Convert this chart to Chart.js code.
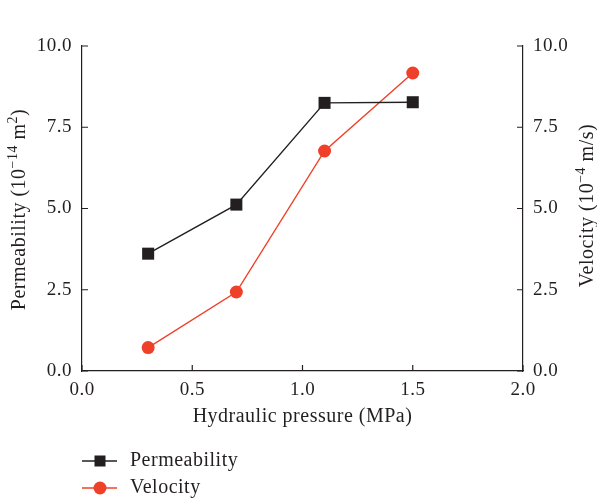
<!DOCTYPE html>
<html>
<head>
<meta charset="utf-8">
<script src="https://cdn.jsdelivr.net/npm/chart.js@4.4.0/dist/chart.umd.min.js"></script>
<style>
    html, body { margin: 0; padding: 0; background: #fff; }
    #wrap { position: relative; width: 597px; height: 503px; }
</style>
</head>
<body>
<div id="wrap"><canvas id="chart"></canvas></div>
<script>
var pressure = [0.3, 0.7, 1.1, 1.5];
var permeability = [3.61, 5.12, 8.25, 8.27];
var velocity = [0.72, 2.43, 6.77, 9.17];
var xTicks = [0, 0.5, 1.0, 1.5, 2.0];
var yTicks = [0, 2.5, 5.0, 7.5, 10.0];

var seriesNames = ['Permeability', 'Velocity'];
var xTitle = 'Hydraulic pressure (MPa)';
// [text, isSuperscript]
var leftTitle = [['Permeability (10', false], ['\u221214', true], [' m', false], ['2', true], [')', false]];
var rightTitle = [['Velocity (10', false], ['\u22124', true], [' m/s)', false]];

var FONT = '"Liberation Serif", "Times New Roman", serif';
var INK = '#231f20';
var RED = '#ef4129';
var SPACING = '0.5px';

function pts(xs, ys) {
    return xs.map(function (x, i) { return { x: x, y: ys[i] }; });
}

function fixedTicks(list) {
    return function (scale) {
        scale.ticks = list.map(function (v) { return { value: v }; });
    };
}

function drawRich(ctx, parts, size) {
    var big = size + 'px ' + FONT;
    var small = Math.round(size * 0.68) + 'px ' + FONT;
    var total = 0;
    parts.forEach(function (p) {
        ctx.font = p[1] ? small : big;
        total += ctx.measureText(p[0]).width;
    });
    var x = -total / 2;
    parts.forEach(function (p) {
        ctx.font = p[1] ? small : big;
        ctx.fillText(p[0], x, p[1] ? -size * 0.38 : 0);
        x += ctx.measureText(p[0]).width;
    });
}

// the source font sets a little wider than Liberation Serif
var spacingPlugin = {
    id: 'spacing',
    beforeInit: function (chart) { chart.ctx.letterSpacing = SPACING; },
    beforeUpdate: function (chart) { chart.ctx.letterSpacing = SPACING; },
    beforeDraw: function (chart) { chart.ctx.letterSpacing = SPACING; }
};

var decorPlugin = {
    id: 'decor',
    afterDraw: function (chart) {
        var ctx = chart.ctx;
        var area = chart.chartArea;
        ctx.save();
        ctx.strokeStyle = INK;
        ctx.lineWidth = 1.2;

        // inward tick marks
        var len = 6;
        ctx.beginPath();
        chart.scales.x.ticks.forEach(function (t) {
            var px = chart.scales.x.getPixelForValue(t.value);
            ctx.moveTo(px, area.bottom);
            ctx.lineTo(px, area.bottom - len);
        });
        chart.scales.y.ticks.forEach(function (t) {
            var py = chart.scales.y.getPixelForValue(t.value);
            ctx.moveTo(area.left, py);
            ctx.lineTo(area.left + len, py);
        });
        chart.scales.y1.ticks.forEach(function (t) {
            var py = chart.scales.y1.getPixelForValue(t.value);
            ctx.moveTo(area.right, py);
            ctx.lineTo(area.right - len, py);
        });
        ctx.stroke();

        // vertical axis titles with superscripts
        ctx.fillStyle = INK;
        ctx.textBaseline = 'alphabetic';
        ctx.textAlign = 'left';
        var midY = (area.top + area.bottom) / 2;
        ctx.save();
        ctx.translate(25, midY + 1);
        ctx.rotate(-Math.PI / 2);
        drawRich(ctx, leftTitle, 20);
        ctx.restore();
        ctx.save();
        ctx.translate(593, midY - 3);
        ctx.rotate(-Math.PI / 2);
        drawRich(ctx, rightTitle, 20);
        ctx.restore();

        // legend, stacked below the x axis title
        var rows = [461, 488];
        chart.data.datasets.forEach(function (ds, i) {
            var y = rows[i];
            ctx.strokeStyle = ds.borderColor;
            ctx.lineWidth = ds.borderWidth;
            ctx.beginPath();
            ctx.moveTo(82, y);
            ctx.lineTo(117, y);
            ctx.stroke();
            ctx.fillStyle = ds.backgroundColor;
            if (ds.pointStyle === 'rect') {
                ctx.fillRect(100 - 5.5, y - 5.5, 11, 11);
            } else {
                ctx.beginPath();
                ctx.arc(100, y, 6.5, 0, Math.PI * 2);
                ctx.fill();
            }
            ctx.fillStyle = INK;
            ctx.font = '20px ' + FONT;
            ctx.textBaseline = 'middle';
            ctx.fillText(ds.label, 130, y);
        });
        ctx.restore();
    }
};

var tickFont = { family: FONT, size: 19 };
var titleFont = { family: FONT, size: 20 };

function yScale(position, width) {
    return {
        type: 'linear',
        position: position,
        min: 0,
        max: 10,
        afterBuildTicks: fixedTicks(yTicks),
        afterFit: function (scale) { scale.width = width; },
        grid: { display: false, drawTicks: false },
        border: { display: true, color: INK, width: 1.2 },
        ticks: {
            font: tickFont,
            color: INK,
            padding: 10,
            callback: function (v) { return v.toFixed(1); }
        }
    };
}

new Chart(document.getElementById('chart'), {
    type: 'scatter',
    data: {
        datasets: [
            {
                label: seriesNames[0],
                data: pts(pressure, permeability),
                yAxisID: 'y',
                showLine: true,
                borderColor: INK,
                backgroundColor: INK,
                borderWidth: 1.4,
                pointStyle: 'rect',
                pointRadius: 8.5,
                pointBorderWidth: 0
            },
            {
                label: seriesNames[1],
                data: pts(pressure, velocity),
                yAxisID: 'y1',
                showLine: true,
                borderColor: RED,
                backgroundColor: RED,
                borderWidth: 1.4,
                pointStyle: 'circle',
                pointRadius: 6.5,
                pointBorderWidth: 0
            }
        ]
    },
    options: {
        responsive: true,
        maintainAspectRatio: false,
        animation: false,
        layout: { padding: { top: 46, bottom: 74, left: 0, right: 0 } },
        plugins: {
            legend: { display: false },
            tooltip: { enabled: false }
        },
        scales: {
            x: {
                type: 'linear',
                min: 0,
                max: 2,
                afterBuildTicks: fixedTicks(xTicks),
                afterFit: function (scale) { scale.height = 58; },
                grid: { display: false, drawTicks: false },
                border: { display: true, color: INK, width: 1.2 },
                ticks: {
                    font: tickFont,
                    color: INK,
                    padding: 8,
                    maxRotation: 0,
                    callback: function (v) { return v.toFixed(1); }
                },
                title: {
                    display: true,
                    text: xTitle,
                    font: titleFont,
                    color: INK,
                    padding: { top: 0, bottom: 0 }
                }
            },
            y: yScale('left', 82),
            y1: yScale('right', 74)
        }
    },
    plugins: [spacingPlugin, decorPlugin]
});
</script>
</body>
</html>
